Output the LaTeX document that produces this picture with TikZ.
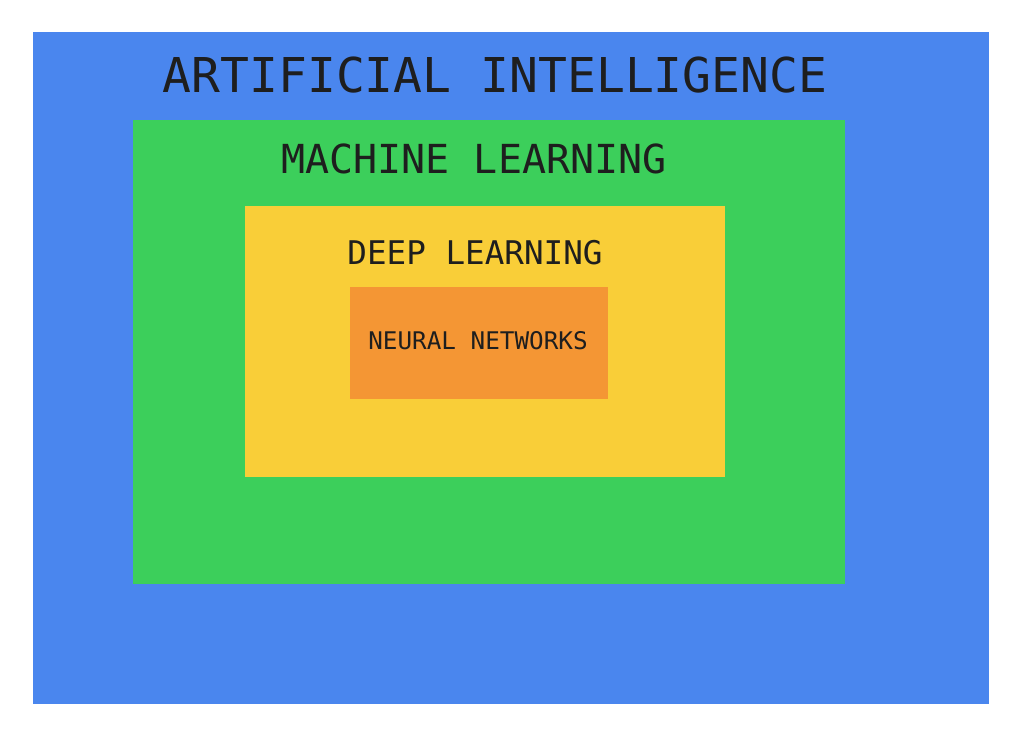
\documentclass[tikz,border=0pt]{standalone}
\usepackage{fontspec}
\setmonofont{DejaVu Sans Mono}
\definecolor{cblue}{HTML}{4A86EE}
\definecolor{cgreen}{HTML}{3CCF5B}
\definecolor{cyellow}{HTML}{F9CE38}
\definecolor{corange}{HTML}{F49634}
\definecolor{ctext}{HTML}{1E1E1E}
\tikzset{lbl/.style={text=ctext,font=\ttfamily,inner sep=0pt,anchor=center}}
\begin{document}
\begin{tikzpicture}[x=1pt,y=-1pt]
\useasboundingbox (0,0) rectangle (1024,729);
\fill[cblue] (33,32) rectangle (989,704);
\fill[cgreen] (133,120) rectangle (845,584);
\fill[cyellow] (245,206) rectangle (725,477);
\fill[corange] (350,287) rectangle (608,399);
\node[lbl,font=\ttfamily\fontsize{48}{52}\selectfont] (ai) at (495,75) {ARTIFICIAL INTELLIGENCE};
\node[lbl,font=\ttfamily\fontsize{40}{44}\selectfont] (ml) at (474,159) {MACHINE LEARNING};
\node[lbl,font=\ttfamily\fontsize{32.6}{36}\selectfont] (dl) at (475,253) {DEEP LEARNING};
\node[lbl,font=\ttfamily\fontsize{24.3}{28}\selectfont] (nn) at (478,341) {NEURAL NETWORKS};
\end{tikzpicture}
\end{document}
